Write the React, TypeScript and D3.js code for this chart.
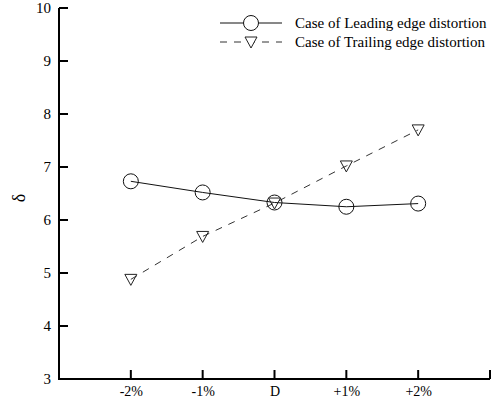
import React, { useRef, useEffect } from "react";
import * as d3 from "d3";

const categories = ["-2%", "-1%", "D", "+1%", "+2%"];
const leadingEdge = [6.73, 6.52, 6.33, 6.25, 6.31];
const trailingEdge = [4.88, 5.69, 6.32, 7.02, 7.7];
const yTicks = [3, 4, 5, 6, 7, 8, 9, 10];
const legendLabels = ["Case of Leading edge distortion", "Case of Trailing edge distortion"];

const W = 496;
const H = 399;
const FONT = "'Liberation Serif', 'Times New Roman', serif";

export default function App() {
  const ref = useRef<SVGSVGElement>(null);

  useEffect(() => {
    const svg = d3.select(ref.current);
    svg.selectAll("*").remove();

    // category i sits at position i+1, axis runs 0..6
    const x = d3.scaleLinear().domain([0, 6]).range([59, 490]);
    const y = d3.scaleLinear().domain([3, 10]).range([379, 8]);
    const xTicks = categories.map((_, i) => i + 1);

    // tick labels through d3 axes, tick marks drawn below
    const yAxis = svg
      .append("g")
      .attr("transform", `translate(${x(0)},0)`)
      .call(d3.axisLeft(y).tickValues(yTicks).tickFormat(d3.format("d")).tickSize(0).tickPadding(8));
    yAxis.select(".domain").remove();
    yAxis.selectAll("text").attr("font-family", FONT).attr("font-size", 15).attr("fill", "#000");

    const xAxis = svg
      .append("g")
      .attr("transform", `translate(0,${y(3)})`)
      .call(
        d3
          .axisBottom(x)
          .tickValues(xTicks)
          .tickFormat((d) => categories[(d as number) - 1])
          .tickSize(0)
          .tickPadding(7)
      );
    xAxis.select(".domain").remove();
    xAxis.selectAll("text").attr("font-family", FONT).attr("font-size", 14).attr("fill", "#000");

    // inward tick marks
    svg
      .selectAll("line.ytick")
      .data(yTicks)
      .join("line")
      .attr("class", "ytick")
      .attr("x1", x(0))
      .attr("x2", x(0) + 9)
      .attr("y1", (d) => y(d))
      .attr("y2", (d) => y(d))
      .attr("stroke", "#000")
      .attr("stroke-width", 2);

    svg
      .selectAll("line.xtick")
      .data([...xTicks, 6])
      .join("line")
      .attr("class", "xtick")
      .attr("x1", (d) => x(d))
      .attr("x2", (d) => x(d))
      .attr("y1", y(3))
      .attr("y2", y(3) - 9)
      .attr("stroke", "#000")
      .attr("stroke-width", 2);

    // axis frame lines
    svg
      .append("path")
      .attr("d", `M${x(0)},${y(10)}V${y(3)}H${x(6)}`)
      .attr("fill", "none")
      .attr("stroke", "#000")
      .attr("stroke-width", 2);

    // y label
    svg
      .append("text")
      .attr("transform", `translate(25,198) rotate(-90)`)
      .attr("text-anchor", "middle")
      .attr("font-family", FONT)
      .attr("font-size", 18)
      .text("δ");

    const line = d3
      .line<number>()
      .x((_, i) => x(i + 1))
      .y((d) => y(d));

    svg
      .append("path")
      .datum(leadingEdge)
      .attr("d", line)
      .attr("fill", "none")
      .attr("stroke", "#111")
      .attr("stroke-width", 1);

    svg
      .append("path")
      .datum(trailingEdge)
      .attr("d", line)
      .attr("fill", "none")
      .attr("stroke", "#333")
      .attr("stroke-width", 1)
      .attr("stroke-dasharray", "7,7");

    const tri = (cx: number, cy: number) =>
      `M${cx - 6},${cy - 5}L${cx + 6},${cy - 5}L${cx},${cy + 6}Z`;

    svg
      .selectAll("circle.lead")
      .data(leadingEdge)
      .join("circle")
      .attr("class", "lead")
      .attr("cx", (_, i) => x(i + 1))
      .attr("cy", (d) => y(d))
      .attr("r", 7.5)
      .attr("fill", "none")
      .attr("stroke", "#111")
      .attr("stroke-width", 1);

    svg
      .selectAll("path.trail")
      .data(trailingEdge)
      .join("path")
      .attr("class", "trail")
      .attr("d", (d, i) => tri(x(i + 1), y(d)))
      .attr("fill", "none")
      .attr("stroke", "#222")
      .attr("stroke-width", 1);

    // legend
    const lg = svg.append("g");
    legendLabels.forEach((label, i) => {
      const ly = 23 + i * 19;
      lg.append("line")
        .attr("x1", 220)
        .attr("x2", 282)
        .attr("y1", ly)
        .attr("y2", ly)
        .attr("stroke", i === 0 ? "#111" : "#333")
        .attr("stroke-width", 1)
        .attr("stroke-dasharray", i === 0 ? null : "7,7");
      if (i === 0) {
        lg.append("circle")
          .attr("cx", 251)
          .attr("cy", ly)
          .attr("r", 7.5)
          .attr("fill", "#fff")
          .attr("stroke", "#111");
      } else {
        lg.append("path").attr("d", tri(251, ly)).attr("fill", "#fff").attr("stroke", "#222");
      }
      lg.append("text")
        .attr("x", 295)
        .attr("y", ly + 5)
        .attr("font-family", FONT)
        .attr("font-size", 15)
        .text(label);
    });
  }, []);

  return (
    <svg
      ref={ref}
      width={W}
      height={H}
      style={{ position: "absolute", left: 0, top: 0, background: "#fff" }}
    ></svg>
  );
}
